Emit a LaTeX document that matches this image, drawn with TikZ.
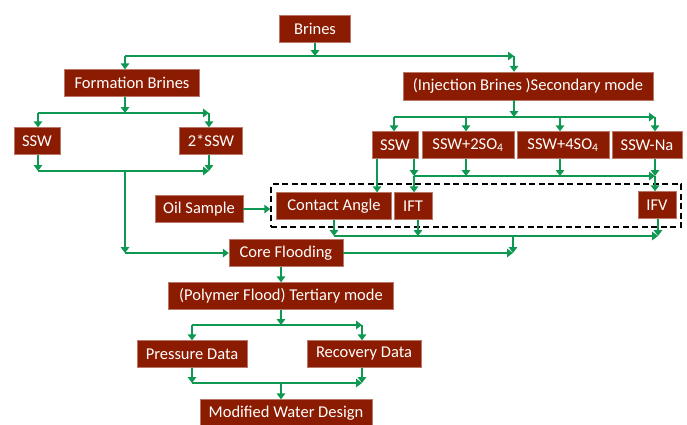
\documentclass[tikz,border=0pt]{standalone}
\usepackage{fontspec}
\setmainfont{Carlito}
\usetikzlibrary{arrows.meta,fit}
\definecolor{boxred}{RGB}{139,28,2}
\definecolor{flowgreen}{RGB}{14,152,82}
\begin{document}
\begin{tikzpicture}[x=1pt, y=-1pt,
		box/.style = {draw=boxred!60!white, line width=0.4pt, fill=boxred, text=white, font=\fontsize{16.5}{18}\selectfont, minimum height=27pt, inner sep=0pt},
		arr/.style = {draw=flowgreen, line width=2.5pt, -{Triangle[length=6pt,width=8.5pt]}},
		frame/.style = {draw=black, line width=2pt, dash pattern=on 6pt off 3.5pt}]
		\useasboundingbox (0,0) rectangle (687,424);
		
		\node[box, minimum width=71pt] (brines) at (315,29) {Brines};
		\node[box, minimum width=135pt] (formation) at (132,83) {Formation Brines};
		\node[box, minimum width=250pt, minimum height=28pt] (injection) at (528,86) {(Injection Brines )Secondary mode};
		
		\node[box, minimum width=46pt] (ssw1) at (37,141) {SSW};
		\node[box, minimum width=63pt] (ssw2) at (211,141) {2*SSW};
		
		\node[box, minimum width=46pt] (sswA) at (395,145) {SSW};
		\node[box, minimum width=92pt] (sswB) at (468,145) {SSW+2SO\textsubscript{4}};
		\node[box, minimum width=92pt] (sswC) at (563,145) {SSW+4SO\textsubscript{4}};
		\node[box, minimum width=70pt] (sswD) at (647,145) {SSW-Na};
		
		\node[box, minimum width=88pt] (oil) at (199,209) {Oil Sample};
		\node[box, minimum width=115pt] (contact) at (334,206) {Contact Angle};
		\node[box, minimum width=38pt] (ift) at (413,206) {IFT};
		\node[box, minimum width=38pt] (ifv) at (657,205) {IFV};
		\node[frame, fit=(contact)(ifv), inner xsep=5pt, inner ysep=7pt] (tests) {};
		
		\node[box, minimum width=114pt] (core) at (286,253) {Core Flooding};
		\node[box, minimum width=225pt] (polymer) at (281,296) {(Polymer Flood) Tertiary mode};
		\node[box, minimum width=110pt] (pressure) at (192,354) {Pressure Data};
		\node[box, minimum width=114pt] (recovery) at (364,354) {Recovery Data};
		\node[box, minimum width=172pt] (design) at (286,413) {Modified Water Design};
		
		% brines split
		\coordinate (j1) at (315,56);
		\coordinate (j1l) at (125,56);
		\coordinate (j1r) at (514,56);
		\draw[arr] (brines) -- (j1);
		\draw[arr] (j1l) -- (j1r);
		\draw[arr] (j1l) -- (j1l |- formation.north);
		\draw[arr] (j1r) -- (j1r |- injection.north);
		
		% formation brines
		\coordinate (j2) at (125,113);
		\coordinate (j2l) at (38,113);
		\coordinate (j2r) at (209,113);
		\draw[arr] (j2 |- formation.south) -- (j2);
		\draw[arr] (j2l) -- (j2r);
		\draw[arr] (j2l) -- (j2l |- ssw1.north);
		\draw[arr] (j2r) -- (j2r |- ssw2.north);
		
		\coordinate (j3) at (125,171);
		\coordinate (j3l) at (38,171);
		\coordinate (j3r) at (209,171);
		\coordinate (j3d) at (125,253);
		\draw[arr] (j3l |- ssw1.south) -- (j3l);
		\draw[arr] (j3r |- ssw2.south) -- (j3r);
		\draw[arr] (j3l) -- (j3r);
		\draw[arr] (j3) -- (j3d);
		\draw[arr] (j3d) -- (core.west);
		
		% injection brines
		\coordinate (j4) at (514,117);
		\coordinate (j4a) at (394,117);
		\coordinate (j4b) at (466,117);
		\coordinate (j4c) at (560,117);
		\coordinate (j4d) at (655,117);
		\draw[arr] (j4 |- injection.south) -- (j4);
		\draw[arr] (j4a) -- (j4d);
		\foreach \j in {j4a,j4b,j4c,j4d}
			\draw[arr] (\j) -- (\j |- sswA.north);
		
		\coordinate (ca) at (377,176);
		\coordinate (j5) at (414,176);
		\coordinate (j5b) at (466,176);
		\coordinate (j5c) at (560,176);
		\coordinate (j5r) at (655,176);
		\draw[arr] (ca |- sswA.south) -- (ca |- contact.north);
		\draw[arr] (j5 |- sswA.south) -- (j5);
		\draw[arr] (j5b |- sswB.south) -- (j5b);
		\draw[arr] (j5c |- sswC.south) -- (j5c);
		\draw[arr] (j5r |- sswD.south) -- (j5r);
		\draw[arr] (j5) -- (j5r);
		\draw[arr] (j5) -- (j5 |- ift.north);
		\draw[arr] (j5r) -- (j5r |- ifv.north);
		
		\draw[arr] (oil) -- (oil -| tests.west);
		
		% measurements to core flooding
		\coordinate (j7a) at (334,236);
		\coordinate (j7b) at (418,236);
		\coordinate (j7c) at (658,236);
		\coordinate (j7m) at (513,236);
		\coordinate (j7e) at (513,253);
		\draw[arr] (j7a |- contact.south) -- (j7a);
		\draw[arr] (j7b |- ift.south) -- (j7b);
		\draw[arr] (j7c |- ifv.south) -- (j7c);
		\draw[arr] (j7a) -- (j7c);
		\draw[arr] (j7m) -- (j7e);
		\draw[arr] (core.east) -- (j7e);
		
		% tertiary mode
		\draw[arr] (core.south -| polymer) -- (polymer.north);
		\coordinate (j9) at (281,325);
		\coordinate (j9l) at (192,325);
		\coordinate (j9r) at (362,325);
		\draw[arr] (polymer) -- (j9);
		\draw[arr] (j9l) -- (j9r);
		\draw[arr] (j9l) -- (pressure);
		\draw[arr] (j9r) -- (j9r |- recovery.north);
		
		\coordinate (j10) at (281,383);
		\coordinate (j10l) at (192,383);
		\coordinate (j10r) at (362,383);
		\draw[arr] (pressure) -- (j10l);
		\draw[arr] (j10r |- recovery.south) -- (j10r);
		\draw[arr] (j10l) -- (j10r);
		\draw[arr] (j10) -- (j10 |- design.north);
	\end{tikzpicture}
\end{document}
